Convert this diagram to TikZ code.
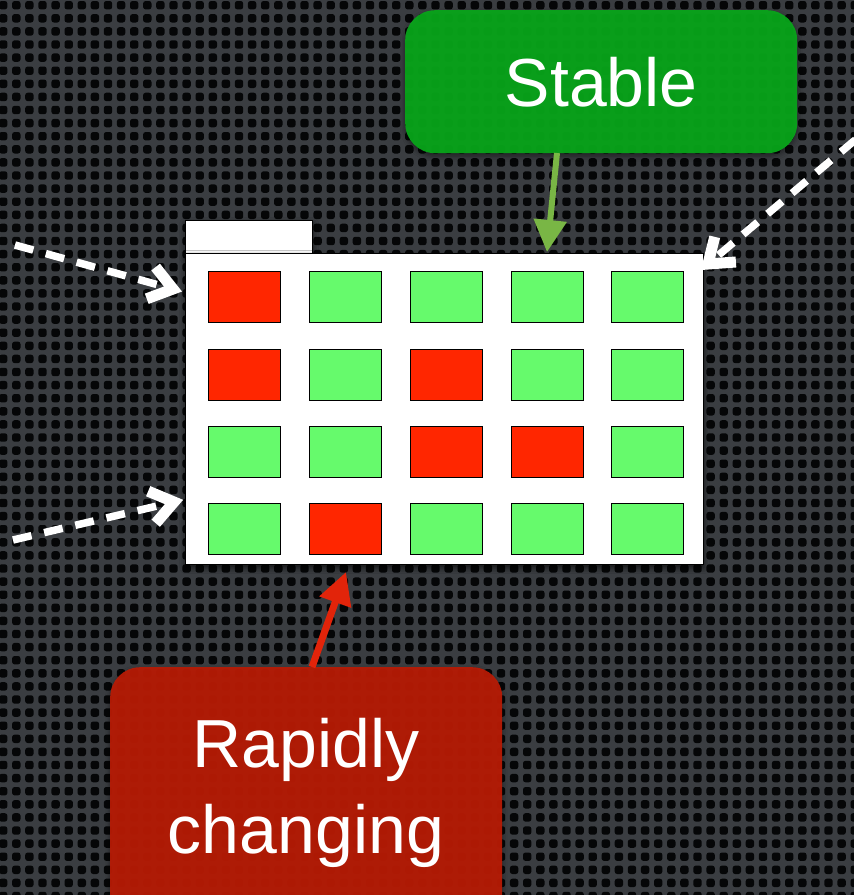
\documentclass[tikz,border=0pt]{standalone}
\usepackage{fontspec}
\setmainfont{Liberation Sans}
\usetikzlibrary{arrows.meta,shadows.blur,calc}

\definecolor{bgbase}{HTML}{3A3D41}
\definecolor{bgdot}{HTML}{050607}
\definecolor{cellred}{HTML}{FF2600}
\definecolor{cellgreen}{HTML}{66FA6C}
\definecolor{stablegreen}{HTML}{08A61A}
\definecolor{rapidred}{HTML}{B81B05}
\definecolor{arrowgreen}{HTML}{79B645}
\definecolor{arrowred}{HTML}{E2240A}

\tikzset{
  cell/.style={draw=black, line width=1.4pt, minimum width=72pt, minimum height=51pt,
    inner sep=0pt, anchor=north west},
  redcell/.style={cell, fill=cellred},
  greencell/.style={cell, fill=cellgreen},
  folderpart/.style={draw=black, line width=1.4pt, fill=white, inner sep=0pt, anchor=north west,
    blur shadow={shadow xshift=0pt, shadow yshift=-3pt, shadow blur radius=6pt, shadow opacity=70}},
  labelbox/.style={rounded corners=30pt, inner sep=0pt, anchor=north west, fill opacity=0.94,
    blur shadow={shadow xshift=0pt, shadow yshift=-3pt, shadow blur radius=5pt, shadow opacity=50}},
  bigtext/.style={text=white, font=\fontsize{68}{82}\selectfont, inner sep=0pt},
  dashline/.style={draw=white, line width=7.5pt, dash pattern=on 19pt off 13pt},
  chevron/.style={draw=white, line width=11pt, line join=miter, miter limit=4, line cap=butt},
  pointer/.style={line width=6pt, -{Triangle[length=32pt, width=32pt]}}
}

\begin{document}
\begin{tikzpicture}[x=1pt, y=-1pt]
  \useasboundingbox (0,0) rectangle (854,895);
  \clip (0,0) rectangle (854,895);

  % perforated metal backdrop
  \fill[bgbase] (0,0) rectangle (854,895);
  \foreach \i in {0,...,66} {
    \foreach \j in {0,...,69} {
      \fill[bgdot, rounded corners=2.5pt] (-1+\i*13.1, 1+\j*13.1) rectangle ++(8.4,8.4);
    }
  }

  % folder: tab and body
  \node[folderpart, minimum width=127pt, minimum height=34pt] (tab) at (185,220) {};
  \node[folderpart, minimum width=518pt, minimum height=311pt] (folder) at (185,253) {};

  % row 1
  \node[redcell]   (c11) at (208,271) {};
  \node[greencell] (c12) at (309,271) {};
  \node[greencell] (c13) at (410,271) {};
  \node[greencell] (c14) at (511,271) {};
  \node[greencell] (c15) at (611,271) {};
  % row 2
  \node[redcell]   (c21) at (208,349) {};
  \node[greencell] (c22) at (309,349) {};
  \node[redcell]   (c23) at (410,349) {};
  \node[greencell] (c24) at (511,349) {};
  \node[greencell] (c25) at (611,349) {};
  % row 3
  \node[greencell] (c31) at (208,426) {};
  \node[greencell] (c32) at (309,426) {};
  \node[redcell]   (c33) at (410,426) {};
  \node[redcell]   (c34) at (511,426) {};
  \node[greencell] (c35) at (611,426) {};
  % row 4
  \node[greencell] (c41) at (208,503) {};
  \node[redcell]   (c42) at (309,503) {};
  \node[greencell] (c43) at (410,503) {};
  \node[greencell] (c44) at (511,503) {};
  \node[greencell] (c45) at (611,503) {};

  % label boxes
  \node[labelbox, fill=stablegreen, minimum width=392pt, minimum height=143pt] (stable) at (405,10) {};
  \node[labelbox, fill=rapidred, minimum width=392pt, minimum height=270pt] (rapid) at (110,667) {};

  \node[bigtext] (stabletext) at (stable.center) {Stable};
  \node[bigtext, anchor=base] (rapidtext1) at (306,767) {Rapidly};
  \node[bigtext, anchor=base] (rapidtext2) at (306,853) {changing};

  % arrow ends
  \coordinate (stableout) at (557,153);
  \coordinate (stablein)  at (547,252);
  \coordinate (rapidout)  at (312,667);
  \coordinate (rapidin)   at (346,572);
  \coordinate (srcA) at (15,245);
  \coordinate (inA)  at (173,289);
  \coordinate (srcB) at (13,540);
  \coordinate (inB)  at (174,502);
  \coordinate (srcC) at (880,119);
  \coordinate (inC)  at (708,264);

  % solid pointers from the label boxes
  \draw[pointer, draw=arrowgreen, fill=arrowgreen] (stableout) -- (stablein);
  \draw[pointer, draw=arrowred, fill=arrowred, line width=7pt] (rapidout) -- (rapidin);

  % dashed incoming links with open chevron heads
  \draw[dashline] (srcA) -- ($(inA)!4pt!(srcA)$);
  \draw[chevron] ($(inA)!28pt!36:(srcA)$) -- (inA) -- ($(inA)!28pt!-36:(srcA)$);
  \draw[dashline] (srcB) -- ($(inB)!4pt!(srcB)$);
  \draw[chevron] ($(inB)!28pt!36:(srcB)$) -- (inB) -- ($(inB)!28pt!-36:(srcB)$);
  \draw[dashline] (srcC) -- ($(inC)!4pt!(srcC)$);
  \draw[chevron] ($(inC)!28pt!36:(srcC)$) -- (inC) -- ($(inC)!28pt!-36:(srcC)$);
\end{tikzpicture}
\end{document}
